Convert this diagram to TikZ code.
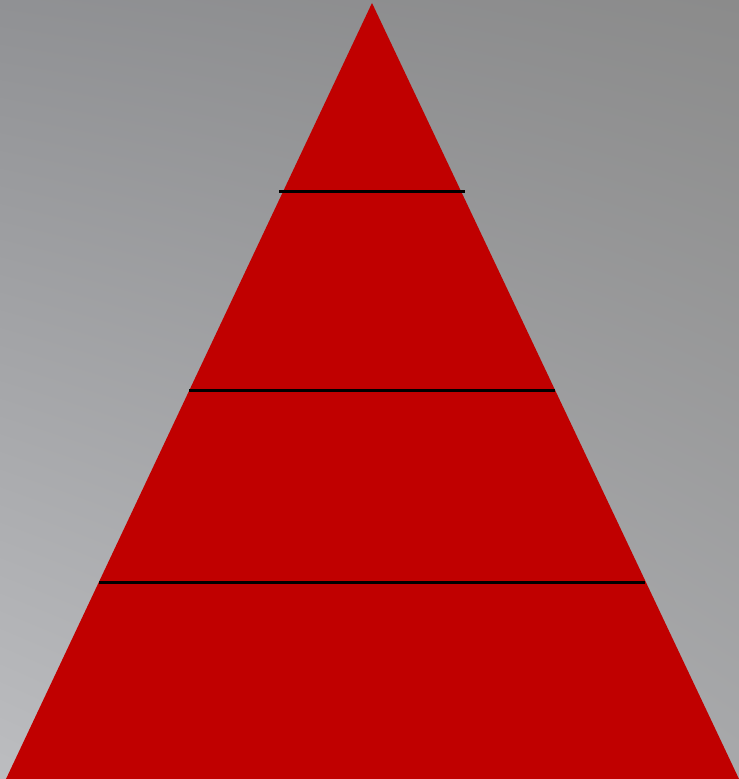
\documentclass[tikz,border=0pt]{standalone}
\usepackage{tikz}
\usetikzlibrary{positioning,calc,shadings}

\definecolor{pyrred}{RGB}{192,0,0}
\definecolor{bgul}{RGB}{144,145,148}
\definecolor{bgur}{RGB}{139,139,139}
\definecolor{bgll}{RGB}{188,189,192}
\definecolor{bglr}{RGB}{168,169,171}

\begin{document}
\begin{tikzpicture}
    \shade[upper left=bgul, upper right=bgur, lower left=bgll, lower right=bglr] (0,0) rectangle (7.39, 7.79);
    \useasboundingbox (0,0) rectangle (7.39, 7.79);

    \fill[pyrred] (0.06,0) -- (3.72,7.76) -- (7.39,0) -- cycle;

    \draw[line width=0.8pt] (2.79,5.875) -- (4.65,5.875);
    \draw[line width=0.8pt] (1.89,3.885) -- (5.55,3.885);
    \draw[line width=0.8pt] (0.99,1.965) -- (6.45,1.965);
  \end{tikzpicture}
\end{document}
